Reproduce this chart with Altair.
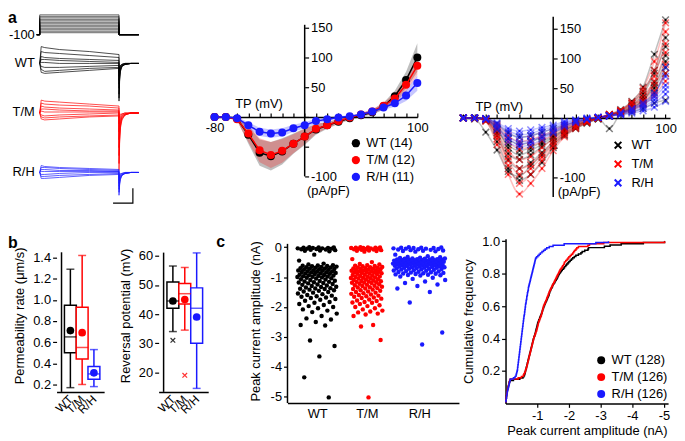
import altair as alt
import pandas as pd

FONT = "Liberation Sans"
GROUPS = ["WT", "T/M", "R/H"]
COLORS = ["#000000", "#ff0000", "#1a1aff"]
XSHAPE = "M-1,-1L1,1M1,-1L-1,1"

# ---------------- panel a (left): example current traces ----------------
TRACE_T = [0, 1.5, 5, 20, 50, 80, 80, 80.6, 81.5, 83, 86, 92, 100]
WT_TRACES = [
    [143, 160, 159, 157, 155, 152, 105, 125, 135, 140, 142, 143, 143],
    [143, 155, 154, 153, 151, 149, 108, 127, 136, 140, 142, 143, 143],
    [143, 150, 149, 148, 147, 146, 112, 130, 137, 141, 142, 143, 143],
    [143, 147, 147, 146, 145, 144, 118, 132, 138, 141, 142, 143, 143],
    [143, 144, 144, 143, 143, 143, 122, 134, 139, 141, 142, 143, 143],
    [143, 140, 139, 139, 140, 141, 126, 136, 140, 142, 143, 143, 143],
    [143, 137, 135, 136, 138, 139, 130, 138, 141, 142, 143, 143, 143],
    [143, 134, 133, 134, 136, 138, 134, 139, 141, 142, 143, 143, 143],
]
TM_TRACES = [
    [93, 106, 105, 104, 102, 100, 35, 62, 78, 86, 91, 93, 93],
    [93, 103, 102, 101, 100, 98, 42, 66, 80, 87, 91, 93, 93],
    [93, 100, 99, 98, 97, 96, 50, 70, 82, 88, 91, 93, 93],
    [93, 97, 97, 96, 95, 95, 58, 74, 84, 89, 92, 93, 93],
    [93, 95, 94, 94, 94, 94, 66, 78, 86, 90, 92, 93, 93],
    [93, 91, 90, 91, 92, 93, 74, 83, 88, 91, 92, 93, 93],
    [93, 89, 88, 89, 90, 91, 82, 87, 90, 92, 93, 93, 93],
    [93, 87, 86, 87, 89, 90, 88, 90, 92, 92, 93, 93, 93],
]
RH_TRACES = [
    [33, 40, 39, 38, 37, 36, 10, 20, 26, 30, 32, 33, 33],
    [33, 38, 38, 37, 36, 35, 13, 22, 27, 30, 32, 33, 33],
    [33, 36, 36, 35, 35, 34, 16, 24, 28, 31, 32, 33, 33],
    [33, 34, 34, 34, 34, 34, 19, 26, 29, 31, 32, 33, 33],
    [33, 31, 31, 32, 33, 33, 22, 27, 30, 31, 32, 33, 33],
    [33, 29, 29, 30, 31, 32, 25, 29, 31, 32, 33, 33, 33],
    [33, 27, 27, 28, 30, 31, 28, 30, 32, 32, 33, 33, 33],
]
STEP_LEVELS = [192, 190.5, 189, 187.5, 186, 184.5, 183, 181.5, 180, 178.5, 177, 175.5, 174]
HOLD_LEVEL = 172
STEP_T = [-3, 0, 0, 80, 80, 100]
SCALE_BAR_T = [74, 94, 94]
SCALE_BAR_V = [2, 2, 17]
TRACE_LABELS = ["-100", "WT", "T/M", "R/H"]
TRACE_LABEL_V = [172, 143, 94, 33]

# ---------------- panel a (middle): mean I-V ----------------
IV_X = [-80, -70, -60, -50, -40, -30, -20, -10, 0, 10, 20, 30, 40, 50, 60, 70, 80, 90, 100]
IV_MEAN = {
    "WT":  [0, 0, -3, -30, -60, -66, -58, -45, -33, -21, -14, -8, -2, 3, 8, 18, 35, 62, 100],
    "T/M": [0, 0, -4, -28, -56, -64, -57, -45, -33, -20, -14, -7, -1, 4, 9, 19, 31, 54, 86],
    "R/H": [0, 0, -2, -14, -25, -28, -26, -19, -14, -7, -4, -1, 1, 4, 9, 16, 23, 36, 57],
}
IV_SEM = {
    "WT":  [1, 1, 3, 15, 22, 24, 22, 17, 14, 9, 6, 4, 3, 3, 4, 6, 9, 14, 24],
    "T/M": [1, 1, 3, 14, 20, 22, 20, 16, 13, 8, 5, 4, 3, 3, 4, 5, 8, 11, 15],
    "R/H": [1, 1, 2, 5, 7, 7, 7, 6, 5, 4, 3, 2, 2, 2, 3, 4, 6, 9, 13],
}

# ---------------- panel a (right): individual cells ----------------
CELLS = {
    "WT": [
        [0, 0, -5, -40, -85, -105, -95, -75, -50, -30, -18, -9, -2, 4, 12, 25, 45, 80, 135],
        [0, -2, -24, -54, -90, -98, -80, -62, -44, -28, -17, -8, -1, 6, 14, 28, 52, 107, 165],
        [0, 0, -3, -25, -60, -70, -62, -48, -35, -22, -13, -6, 0, 5, 10, 20, 35, 60, 105],
        [0, 0, -2, -20, -45, -55, -50, -40, -30, -20, -12, -6, -1, -18, 8, 16, 30, 55, 95],
        [0, 0, -2, -15, -35, -45, -40, -32, -25, -16, -9, -4, 0, 4, 8, 14, 24, 42, 75],
        [0, 0, -1, -10, -25, -32, -30, -24, -18, -12, -7, -3, 0, 3, 6, 10, 16, 25, 30],
        [0, 0, -4, -30, -70, -85, -75, -58, -40, -25, -15, -7, -1, 5, 11, 22, 40, 75, 120],
        [0, 0, -2, -18, -50, -62, -55, -44, -32, -20, -12, -5, 0, 4, 9, 17, 30, 50, 85],
    ],
    "T/M": [
        [0, 0, -6, -45, -95, -128, -110, -85, -55, -32, -18, -8, -1, 5, 13, 27, 50, 95, 160],
        [0, 0, -4, -35, -80, -110, -95, -72, -48, -28, -16, -7, 0, 6, 12, 24, 45, 80, 145],
        [0, -1, -3, -28, -65, -85, -78, -60, -40, -24, -14, -6, 0, 5, 10, 20, 38, 62, 110],
        [0, 0, -2, -22, -55, -70, -65, -50, -35, -20, -11, -5, 0, 4, 9, 18, 32, 55, 90],
        [0, 0, -2, -15, -40, -52, -48, -38, -28, -17, -10, -4, 0, 4, 8, 15, 27, 45, 75],
        [0, 0, -1, -12, -30, -40, -36, -30, -22, -13, -7, -3, 0, 3, 7, 13, 22, 38, 62],
        [0, 0, -3, -30, -72, -95, -85, -66, -45, -26, -15, -6, 1, 6, 12, 25, 28, 70, 125],
    ],
    "R/H": [
        [0, 0, -2, -15, -32, -40, -38, -30, -22, -12, -6, -2, 1, 4, 8, 14, 22, 35, 55],
        [0, 0, -1, -10, -22, -28, -26, -20, -15, -8, -4, -1, 1, 3, 6, 10, 16, 25, 40],
        [0, 0, -1, -8, -18, -22, -20, -16, -12, -6, -3, 0, 1, 3, 5, 8, 12, 18, 28],
        [0, 0, -3, -20, -40, -48, -45, -36, -26, -15, -8, -3, 1, 4, 9, 16, 26, 42, 70],
        [0, 0, -1, -12, -26, -33, -30, -24, -18, -10, -5, -2, 1, 3, 7, 12, 19, 30, 48],
        [0, 0, -2, -18, -35, -44, -40, -32, -24, -13, -7, -2, 1, 4, 8, 15, 24, 38, 85],
    ],
}

# ---------------- panel b: box plots ----------------
PERM_MIN = [0.17, 0.20, 0.18]
PERM_Q1 = [0.50, 0.44, 0.25]
PERM_MED = [0.65, 0.55, 0.30]
PERM_Q3 = [0.95, 0.93, 0.37]
PERM_MAX = [1.29, 1.42, 0.53]
PERM_MEAN = [0.71, 0.69, 0.31]

EREV_MIN = [34.0, 34.5, 14.5]
EREV_Q1 = [42.0, 43.5, 30.0]
EREV_MED = [44.5, 47.0, 42.0]
EREV_Q3 = [51.0, 50.5, 49.0]
EREV_MAX = [56.5, 56.0, 61.0]
EREV_MEAN = [44.5, 45.0, 39.0]
EREV_OUT_GRP = ["WT", "T/M"]
EREV_OUT = [31.0, 19.0]

# ---------------- panel c: peak current amplitudes (nA) ----------------
AMP_WT = [
    -0.00, -0.01, -0.01, -0.02, -0.03, -0.03, -0.04, -0.04, -0.05, -0.05, -0.06, -0.07, -0.08, -0.09,
    -0.10, -0.11, -0.12, -0.14, -0.25, -0.45, -0.55, -0.58, -0.60, -0.61, -0.62,
    -0.63, -0.64, -0.65, -0.66, -0.67, -0.68, -0.69, -0.70, -0.71, -0.72, -0.73, -0.74, -0.75,
    -0.76, -0.77, -0.78, -0.79, -0.80, -0.81, -0.82, -0.83, -0.84, -0.85, -0.86, -0.87, -0.88,
    -0.89, -0.90, -0.92, -0.93, -0.94, -0.95, -0.96, -0.97, -0.98, -0.99, -1.00, -1.01, -1.02,
    -1.04, -1.05, -1.07, -1.08, -1.10, -1.12, -1.13, -1.15, -1.16, -1.17, -1.18, -1.20, -1.21,
    -1.23, -1.25, -1.26, -1.28, -1.30, -1.32, -1.33, -1.35, -1.37, -1.38, -1.39, -1.40, -1.42,
    -1.44, -1.46, -1.48, -1.50, -1.52, -1.55, -1.57, -1.60, -1.62, -1.64, -1.66, -1.68, -1.70,
    -1.73, -1.76, -1.79, -1.83, -1.86, -1.90, -1.93, -1.97, -2.00, -2.04, -2.08, -2.12, -2.17,
    -2.22, -2.30, -2.38, -2.42, -2.50, -2.60, -2.62, -3.12, -3.30, -3.65, -4.35, -5.02,
]
AMP_TM = [
    -0.00, -0.01, -0.01, -0.02, -0.02, -0.03, -0.03, -0.04, -0.05, -0.05, -0.06, -0.07, -0.08, -0.09,
    -0.10, -0.11, -0.12, -0.13, -0.15, -0.40, -0.50, -0.56, -0.58, -0.60, -0.62,
    -0.63, -0.64, -0.66, -0.67, -0.68, -0.69, -0.70, -0.71, -0.72, -0.73, -0.74, -0.75, -0.76,
    -0.77, -0.78, -0.79, -0.80, -0.81, -0.82, -0.83, -0.84, -0.85, -0.86, -0.87, -0.88, -0.89,
    -0.90, -0.92, -0.93, -0.95, -0.96, -0.98, -0.99, -1.00, -1.01, -1.02, -1.03, -1.04,
    -1.05, -1.07, -1.08, -1.10, -1.11, -1.13, -1.14, -1.15, -1.16, -1.17, -1.18, -1.19, -1.20,
    -1.22, -1.24, -1.26, -1.27, -1.29, -1.30, -1.32, -1.34, -1.35, -1.37, -1.38, -1.40, -1.42,
    -1.44, -1.46, -1.48, -1.50, -1.52, -1.54, -1.56, -1.58, -1.60, -1.62, -1.64, -1.66,
    -1.68, -1.70, -1.72, -1.75, -1.78, -1.80, -1.83, -1.85, -1.86, -1.90, -1.94, -1.97, -2.00,
    -2.04, -2.08, -2.12, -2.15, -2.18, -2.22, -2.25, -2.30, -2.60, -2.65, -3.10, -5.02,
]
AMP_RH = [
    -0.00, -0.01, -0.02, -0.02, -0.03, -0.03, -0.04, -0.05, -0.05, -0.06, -0.07, -0.08, -0.09, -0.10,
    -0.11, -0.12, -0.13, -0.14, -0.15, -0.25, -0.30, -0.33, -0.34, -0.35, -0.36,
    -0.37, -0.38, -0.38, -0.39, -0.39, -0.40, -0.40, -0.41, -0.41, -0.42, -0.42, -0.43, -0.43,
    -0.44, -0.44, -0.45, -0.45, -0.46, -0.46, -0.47, -0.47, -0.48, -0.48, -0.49, -0.49, -0.50,
    -0.50, -0.51, -0.51, -0.52, -0.52, -0.53, -0.53, -0.54, -0.54, -0.55, -0.55, -0.56,
    -0.56, -0.57, -0.57, -0.58, -0.58, -0.59, -0.60, -0.60, -0.61, -0.61, -0.62, -0.62, -0.63,
    -0.63, -0.64, -0.65, -0.65, -0.66, -0.67, -0.67, -0.68, -0.69, -0.69, -0.70, -0.71, -0.72,
    -0.72, -0.73, -0.74, -0.75, -0.76, -0.77, -0.78, -0.79, -0.80, -0.81, -0.82, -0.83,
    -0.84, -0.85, -0.86, -0.87, -0.88, -0.89, -0.90, -0.91, -0.92, -0.93, -0.94, -0.95,
    -0.98, -1.02, -1.06, -1.10, -1.15, -1.20, -1.25, -1.30, -1.38, -1.50, -1.85, -2.85, -3.25,
]
STRIP_CENTER = [0.6, 1.6, 2.66]
STRIP_SPREAD = [0.80, 0.64, 1.06]

# =====================================================================
cscale = alt.Scale(domain=GROUPS, range=COLORS)


def col(legend=None):
    return alt.Color("grp:N", scale=cscale, legend=legend)


def AX(**kw):
    base = dict(labelFlush=False, labelOverlap=False, tickCount=200)
    base.update(kw)
    return alt.Axis(**base)


def resolve(c):
    return c.resolve_scale(x="independent", y="independent", color="independent",
                           stroke="independent").resolve_legend(color="independent", stroke="independent")


def blank(w, h):
    return alt.Chart(pd.DataFrame({"z": [0]})).mark_point(opacity=0).encode(
        x=alt.X("z:Q", axis=None), y=alt.Y("z:Q", axis=None)).properties(width=w, height=h)


def axis_line(xv, y0, y1, xf, yf, xs, ys):
    d = pd.DataFrame({xf: [xv], yf: [y0], "top": [y1]})
    return alt.Chart(d).mark_rule(strokeWidth=1.5, color="black").encode(
        x=alt.X(f"{xf}:Q", scale=xs), y=alt.Y(f"{yf}:Q", scale=ys), y2="top:Q")


# ---------- traces panel ----------
rows = []
for g, trs in zip(GROUPS, [WT_TRACES, TM_TRACES, RH_TRACES]):
    for k, tr in enumerate(trs):
        for i, (t, v) in enumerate(zip(TRACE_T, tr)):
            rows.append({"grp": g, "id": f"{g}{k}", "i": i, "t": t, "v": v})
df_tr = pd.DataFrame(rows)
rows = []
for k, lev in enumerate(STEP_LEVELS):
    vs = [HOLD_LEVEL, HOLD_LEVEL, lev, lev, HOLD_LEVEL, HOLD_LEVEL]
    for i, (t, v) in enumerate(zip(STEP_T, vs)):
        rows.append({"id": k, "i": i, "t": t, "v": v})
df_pr = pd.DataFrame(rows)
df_sb = pd.DataFrame({"t": SCALE_BAR_T, "v": SCALE_BAR_V, "i": [0, 1, 2]})
df_tl = pd.DataFrame({"label": TRACE_LABELS, "v": TRACE_LABEL_V, "t": [-5] * 4})
df_a = pd.DataFrame({"label": ["a"], "t": [-32], "v": [197]})

txs = alt.Scale(domain=[-32, 102], nice=False, zero=False)
tys = alt.Scale(domain=[0, 197], nice=False, zero=False)
TX = alt.X("t:Q", scale=txs, axis=None)
TY = alt.Y("v:Q", scale=tys, axis=None)
traces = alt.layer(
    alt.Chart(df_pr).mark_line(strokeWidth=0.6, color="black").encode(x=TX, y=TY, detail="id:N", order="i:Q"),
    alt.Chart(df_tr).mark_line(strokeWidth=0.7).encode(x=TX, y=TY, color=col(), detail="id:N", order="i:Q"),
    alt.Chart(df_sb).mark_line(strokeWidth=1.2, color="black").encode(x=TX, y=TY, order="i:Q"),
    alt.Chart(df_tl).mark_text(align="right", baseline="middle", fontSize=13).encode(x=TX, y=TY, text="label:N"),
    alt.Chart(df_a).mark_text(align="left", baseline="top", fontSize=16, fontWeight="bold").encode(x=TX, y=TY, text="label:N"),
).properties(width=134, height=197)

# ---------- mean IV panel ----------
rows = []
for g in GROUPS:
    for x, m, s in zip(IV_X, IV_MEAN[g], IV_SEM[g]):
        rows.append({"grp": g, "x": x, "mean": m, "lo": m - s, "hi": m + s})
df_iv = pd.DataFrame(rows)

ivxs = alt.Scale(domain=[-83, 100], nice=False, zero=False)
ivys = alt.Scale(domain=[-148.33, 180], nice=False, zero=False)
iv_xaxis = AX(orient="top", offset=-108, values=IV_X, title=None, tickSize=4, labelPadding=-9,
              labelBaseline="top",
              labelExpr="(datum.value==-80||datum.value==100) ? ''+datum.value : ''")
iv_yaxis = AX(orient="right", offset=-113.7, values=[-100, -50, 0, 50, 100, 150], title=None,
              tickSize=4, labelPadding=2, domain=False,
              labelExpr="(datum.value==0||datum.value==-50) ? '' : ''+datum.value")
IVX = alt.X("x:Q", scale=ivxs, axis=iv_xaxis)
IVY = alt.Y("mean:Q", scale=ivys, axis=iv_yaxis)
iv_leg = alt.Legend(title=None, orient="none", legendX=139.5, legendY=128, symbolType="circle",
                    symbolSize=70, symbolOpacity=1, rowPadding=3, labelFontSize=13, symbolStrokeWidth=0,
                    labelExpr="datum.label=='WT' ? 'WT (14)' : (datum.label=='T/M' ? 'T/M (12)' : 'R/H (11)')")
# first layer carries the legend (tiny marks, hidden under the real ones)
iv_layers = [alt.Chart(df_iv).mark_point(filled=True, size=1, opacity=1).encode(x=IVX, y=IVY, color=col(iv_leg))]
for g in GROUPS:
    d = df_iv[df_iv.grp == g]
    iv_layers.append(alt.Chart(d).mark_area(opacity=0.25).encode(
        x=IVX, y=alt.Y("lo:Q", scale=ivys, axis=iv_yaxis), y2="hi:Q", color=col()))
iv_layers.append(axis_line(0, -100, 155, "x", "lo", ivxs, ivys))
for g in GROUPS:
    d = df_iv[df_iv.grp == g]
    iv_layers.append(alt.Chart(d).mark_line(strokeWidth=1.5).encode(x=IVX, y=IVY, color=col()))
    iv_layers.append(alt.Chart(d).mark_point(filled=True, size=65, opacity=1).encode(x=IVX, y=IVY, color=col()))
df_ivt = pd.DataFrame({"label": ["TP (mV)", "(pA/pF)"], "x": [-40.5, 2], "y": [21, -125]})
iv_layers.append(alt.Chart(df_ivt.iloc[[0]]).mark_text(fontSize=13, align="center", baseline="middle").encode(
    x=IVX, y=alt.Y("y:Q", scale=ivys, axis=iv_yaxis), text="label:N"))
iv_layers.append(alt.Chart(df_ivt.iloc[[1]]).mark_text(fontSize=13, align="left", baseline="middle").encode(
    x=IVX, y=alt.Y("y:Q", scale=ivys, axis=iv_yaxis), text="label:N"))
ivmean = alt.layer(*iv_layers).properties(width=208, height=197)

# ---------- individual cells panel ----------
rows = []
for g in GROUPS:
    for k, cell in enumerate(CELLS[g]):
        for x, v in zip(IV_X, cell):
            rows.append({"grp": g, "cell": f"{g}{k}", "x": x, "v": v})
df_sc = pd.DataFrame(rows)
scxs = alt.Scale(domain=[-83, 104], nice=False, zero=False)
scys = alt.Scale(domain=[-146.67, 181.67], nice=False, zero=False)
sc_xaxis = AX(orient="top", offset=-109, values=IV_X, title=None, tickSize=4, labelPadding=-9,
              labelBaseline="top", labelExpr="datum.value==100 ? ''+datum.value : ''")
sc_yaxis = AX(orient="right", offset=-117.9, values=[-100, -50, 0, 50, 100, 150], title=None,
              tickSize=4, labelPadding=2, domain=False,
              labelExpr="(datum.value==0||datum.value==-50) ? '' : ''+datum.value")
SCX = alt.X("x:Q", scale=scxs, axis=sc_xaxis)
SCY = alt.Y("v:Q", scale=scys, axis=sc_yaxis)
sc_leg = alt.Legend(title=None, orient="none", legendX=153, legendY=130, symbolType=XSHAPE,
                    symbolSize=45, symbolStrokeWidth=2, symbolOpacity=1, rowPadding=4, labelFontSize=13,
                    labelOffset=7)
sc_layers = [
    alt.Chart(df_sc).mark_point(shape=XSHAPE, filled=False, size=1, opacity=1).encode(
        x=SCX, y=SCY, color=col(sc_leg)),
    axis_line(0, -133, 170, "x", "v", scxs, scys),
]
for g in GROUPS:
    d = df_sc[df_sc.grp == g]
    sc_layers.append(alt.Chart(d).mark_line(strokeWidth=1.5, opacity=0.25, interpolate="monotone").encode(
        x=SCX, y=SCY, color=col(), detail="cell:N"))
for g in GROUPS:
    d = df_sc[df_sc.grp == g]
    sc_layers.append(alt.Chart(d).mark_point(shape=XSHAPE, filled=False, size=45, strokeWidth=1.5,
                                             opacity=0.5).encode(x=SCX, y=SCY, color=col()))
df_sct = pd.DataFrame({"label": ["TP (mV)", "(pA/pF)"], "x": [-48, 4], "v": [18, -125]})
sc_layers.append(alt.Chart(df_sct.iloc[[0]]).mark_text(fontSize=13, align="center", baseline="middle").encode(
    x=SCX, y=SCY, text="label:N"))
sc_layers.append(alt.Chart(df_sct.iloc[[1]]).mark_text(fontSize=13, align="left", baseline="middle").encode(
    x=SCX, y=SCY, text="label:N"))
cells = alt.layer(*sc_layers).properties(width=212, height=197)


# ---------- box plots ----------
def boxplot(mins, q1, med, q3, maxs, means, xdom, ydom, ytop, yvals, yfmt, ytitle, out_grp=None, out_val=None):
    d = pd.DataFrame({"grp": GROUPS, "pos": [1, 2, 3], "mn": mins, "q1": q1, "md": med, "q3": q3,
                      "mx": maxs, "mean": means})
    xs = alt.Scale(domain=xdom, nice=False, zero=False)
    ys = alt.Scale(domain=ydom, nice=False, zero=False)
    xax = AX(values=[1, 2, 3], labelExpr="['WT','T/M','R/H'][datum.value-1]", labelAngle=-45,
             labelAlign="right", labelBaseline="middle", ticks=False, title=None, labelPadding=5,
             labelFontSize=12)
    yax = AX(values=yvals, format=yfmt, title=ytitle, tickSize=4, titlePadding=6, domain=False)
    X = alt.X("pos:Q", scale=xs, axis=xax)
    strk = alt.Stroke("grp:N", scale=cscale, legend=None)
    layers = [
        axis_line(xdom[0], ydom[0], ytop, "pos", "mn", xs, ys),
        alt.Chart(d).mark_rule(strokeWidth=1.5).encode(x=X, y=alt.Y("mn:Q", scale=ys, axis=yax), y2="mx:Q", color=col()),
        alt.Chart(d).mark_tick(orient="horizontal", size=8, thickness=1.5).encode(x=X, y=alt.Y("mn:Q", scale=ys, axis=yax), color=col()),
        alt.Chart(d).mark_tick(orient="horizontal", size=8, thickness=1.5).encode(x=X, y=alt.Y("mx:Q", scale=ys, axis=yax), color=col()),
        alt.Chart(d).mark_bar(size=12, fill="white", strokeWidth=1.5).encode(x=X, y=alt.Y("q1:Q", scale=ys, axis=yax), y2="q3:Q", stroke=strk),
        alt.Chart(d).mark_tick(orient="horizontal", size=12, thickness=1.5).encode(x=X, y=alt.Y("md:Q", scale=ys, axis=yax), color=col()),
        alt.Chart(d).mark_point(filled=True, size=60, opacity=1).encode(x=X, y=alt.Y("mean:Q", scale=ys, axis=yax), color=col()),
    ]
    if out_grp:
        od = pd.DataFrame({"grp": out_grp, "pos": [GROUPS.index(g) + 1 for g in out_grp], "val": out_val})
        layers.append(alt.Chart(od).mark_point(shape=XSHAPE, filled=False, size=22, strokeWidth=1.2, opacity=0.8).encode(
            x=X, y=alt.Y("val:Q", scale=ys, axis=yax), color=col()))
    return alt.layer(*layers)


box1 = boxplot(PERM_MIN, PERM_Q1, PERM_MED, PERM_Q3, PERM_MAX, PERM_MEAN, [0.247, 3.447], [0.13, 1.577], 1.45,
               [0.2, 0.4, 0.6, 0.8, 1.0, 1.2, 1.4], ".1f", "Permeability rate (μm/s)").properties(width=48, height=154.4)
box2 = boxplot(EREV_MIN, EREV_Q1, EREV_MED, EREV_Q3, EREV_MAX, EREV_MEAN, [0.22, 3.553], [13.3, 65.82], 61.1,
               [20, 30, 40, 50, 60], "d", "Reversal potential (mV)", EREV_OUT_GRP, EREV_OUT).properties(width=50, height=154.4)

df_b = pd.DataFrame({"label": ["b"], "x": [0], "y": [16]})
spacer_b = alt.Chart(df_b).mark_text(align="left", baseline="middle", fontSize=16, fontWeight="bold").encode(
    x=alt.X("x:Q", scale=alt.Scale(domain=[0, 49]), axis=None),
    y=alt.Y("y:Q", scale=alt.Scale(domain=[0, 20]), axis=None), text="label:N").properties(width=49, height=20)

# ---------- strip plot ----------
rows = []
for g, vals, c, w in zip(GROUPS, [AMP_WT, AMP_TM, AMP_RH], STRIP_CENTER, STRIP_SPREAD):
    for i, v in enumerate(vals):
        jit = ((i * 0.6180339887 + 0.3) % 1.0) - 0.5
        rows.append({"grp": g, "amp": v, "pos": c + jit * w})
df_amp = pd.DataFrame(rows)
st_xs = alt.Scale(domain=[0, 3.46], nice=False, zero=False)
st_ys = alt.Scale(domain=[-5.21, 0.277], nice=False, zero=False)
st_xax = AX(values=STRIP_CENTER, ticks=False, title=None, labelPadding=5,
            labelExpr="datum.value<1 ? 'WT' : (datum.value<2 ? 'T/M' : 'R/H')")
st_yax = AX(values=[0, -1, -2, -3, -4, -5], title="Peak current amplitude (nA)", labelExpr="''+datum.value",
            tickSize=4, titlePadding=8, domain=False)
df_c = pd.DataFrame({"label": ["c"], "pos": [-1.44], "amp": [0.17]})
strip = alt.layer(
    axis_line(0, -5.21, 0.11, "pos", "amp", st_xs, st_ys),
    alt.Chart(df_amp).mark_circle(size=20, opacity=1).encode(
        x=alt.X("pos:Q", scale=st_xs, axis=st_xax), y=alt.Y("amp:Q", scale=st_ys, axis=st_yax), color=col()),
    alt.Chart(df_c).mark_text(align="left", baseline="middle", fontSize=16, fontWeight="bold").encode(
        x=alt.X("pos:Q", scale=st_xs, axis=st_xax), y=alt.Y("amp:Q", scale=st_ys, axis=st_yax), text="label:N"),
).properties(width=173, height=165.7)

# ---------- cumulative frequency ----------
cd_xs = alt.Scale(domain=[-5.13, 0], reverse=True, nice=False, zero=False)
cd_ys = alt.Scale(domain=[0, 1.015], nice=False, zero=False)
cd_xax = AX(values=[-1, -2, -3, -4, -5], title="Peak current amplitude (nA)", labelExpr="''+datum.value",
            tickSize=4, titlePadding=2)
cd_yax = AX(values=[0.2, 0.4, 0.6, 0.8, 1.0], format=".1f", title="Cumulative frequency",
            tickSize=4, titlePadding=6)
cd_leg = alt.Legend(title=None, orient="none", legendX=90, legendY=116, symbolType="circle", symbolSize=65,
                    symbolOpacity=1, symbolStrokeWidth=0, rowPadding=3, labelFontSize=13,
                    labelExpr="datum.label=='WT' ? 'WT (128)' : (datum.label=='T/M' ? 'T/M (126)' : 'R/H (126)')")
cdf_base = alt.Chart(df_amp).transform_window(
    cdf="cume_dist()", groupby=["grp"], sort=[alt.SortField("amp", order="descending")])
cd_layers = [
    cdf_base.transform_filter(alt.datum.grp == "WT").mark_point(filled=True, size=1, opacity=1).encode(
        x=alt.X("amp:Q", scale=cd_xs, axis=cd_xax), y=alt.Y("cdf:Q", scale=cd_ys, axis=cd_yax), color=col(cd_leg))
]
for g in GROUPS:
    cd_layers.append(cdf_base.transform_filter(alt.datum.grp == g).mark_line(
        interpolate="step-after", strokeWidth=1.5).encode(
        x=alt.X("amp:Q", scale=cd_xs, axis=cd_xax), y=alt.Y("cdf:Q", scale=cd_ys, axis=cd_yax),
        color=col(), order=alt.Order("amp:Q", sort="descending")))
cdf = alt.layer(*cd_layers).properties(width=164, height=166)

# ---------- layout ----------
row1 = resolve(alt.hconcat(traces, blank(70.7, 197), ivmean, blank(42.3, 197), cells,
                           spacing=0, bounds="flush"))
row2 = resolve(alt.hconcat(spacer_b, box1, blank(55, 20), box2, blank(80, 20), strip, blank(47, 20), cdf,
                           spacing=0, bounds="flush"))
chart = resolve(alt.vconcat(row1, row2, spacing=28)).properties(padding=0)
chart = chart.configure_view(stroke=None).configure_axis(
    labelFont=FONT, titleFont=FONT, labelFontSize=13, titleFontSize=13, titleFontWeight="normal",
    labelColor="black", titleColor="black", domainColor="black", tickColor="black", grid=False,
    domainWidth=1.5, tickWidth=1.2,
).configure_text(font=FONT, color="black").configure_legend(
    labelFont=FONT, labelFontSize=13, labelColor="black", padding=0
)

chart.save("out.html", embed_options={"renderer": "svg", "actions": False})
